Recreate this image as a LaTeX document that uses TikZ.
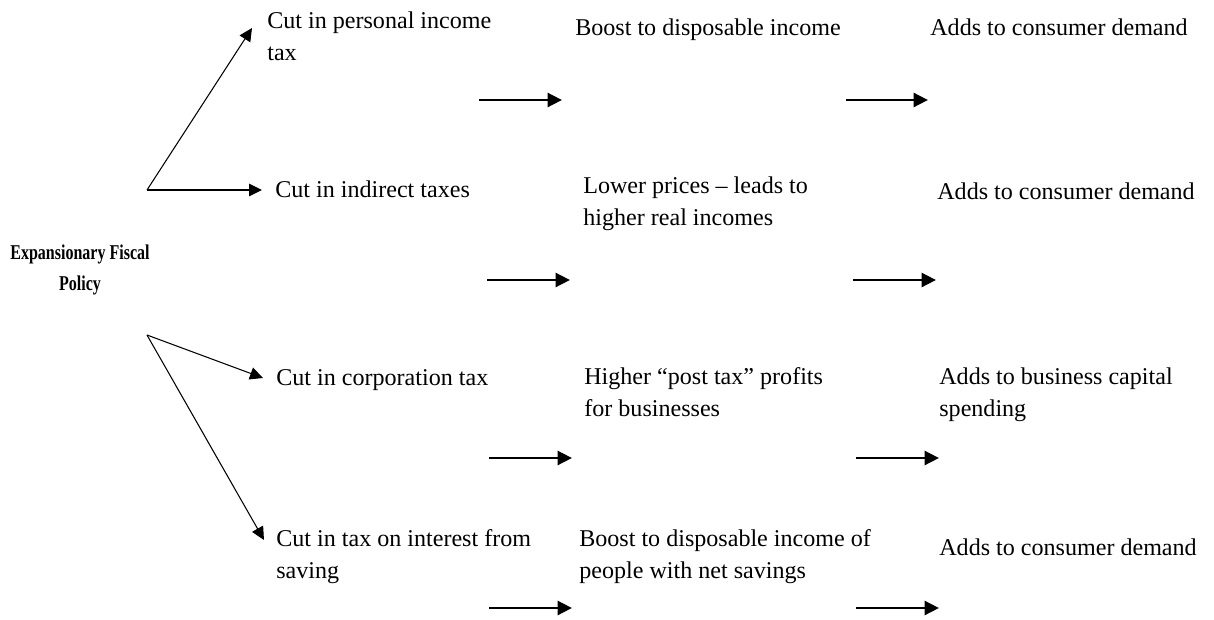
\documentclass[tikz,border=0pt]{standalone}
\usepackage{fontspec}
\setmainfont{Liberation Serif}
\newfontface\titlefont[FakeStretch=0.76]{Liberation Serif Bold}
\usetikzlibrary{arrows.meta}
\tikzset{txt/.style={anchor=base west,inner sep=0pt,align=left,font=\fontsize{13.7}{17.8}\selectfont},
  thinarr/.style={-{Triangle[length=0.26cm,width=0.25cm]},line width=0.6pt},
  thickarr/.style={-{Triangle[length=0.29cm,width=0.28cm]},line width=1.6pt}}

\begin{document}
\begin{tikzpicture}[x=0.02cm,y=-0.02cm]
    \useasboundingbox (0,0) rectangle (1214,619);

    \node[anchor=base,inner sep=0pt,align=center,font=\titlefont\fontsize{12}{17.6}\selectfont] (efp) at (80,290) {Expansionary Fiscal\\Policy};

    \node[txt] (pit) at (267,60) {Cut in personal income\\tax};
    \node[txt] (ind) at (275,197) {Cut in indirect taxes};
    \node[txt] (cor) at (276,385) {Cut in corporation tax};
    \node[txt] (sav) at (276,578) {Cut in tax on interest from\\saving};

    \node[txt] (bdi) at (575,35) {Boost to disposable income};
    \node[txt] (lpr) at (583,225) {Lower prices -- leads to\\higher real incomes};
    \node[txt] (hpt) at (584,416) {Higher ``post tax'' profits\\for businesses};
    \node[txt] (bds) at (579,578) {Boost to disposable income of\\people with net savings};

    \node[txt] (cd1) at (930,35) {Adds to consumer demand};
    \node[txt] (cd2) at (937,199) {Adds to consumer demand};
    \node[txt] (bcs) at (939,416) {Adds to business capital\\spending};
    \node[txt] (cd4) at (939,555) {Adds to consumer demand};

    \coordinate (u) at (147,190);
    \coordinate (d) at (147,335);
    \coordinate (t1) at (252,28);
    \coordinate (t2) at (262,190);
    \coordinate (t3) at (263,378);
    \coordinate (t4) at (264,540);

    \coordinate (a1) at (479,100);
    \coordinate (b1) at (562,100);
    \coordinate (a2) at (487,280);
    \coordinate (b2) at (570,280);
    \coordinate (a3) at (489,458);
    \coordinate (b3) at (572,458);
    \coordinate (a4) at (489,608);
    \coordinate (b4) at (572,608);

    \coordinate (c1) at (846,100);
    \coordinate (e1) at (928,100);
    \coordinate (c2) at (853,280);
    \coordinate (e2) at (936,280);
    \coordinate (c3) at (856,458);
    \coordinate (e3) at (939,458);
    \coordinate (c4) at (856,608);
    \coordinate (e4) at (939,608);

    \draw [thinarr] (u) to (t1);
    \draw [thinarr] (u) to (t2);
    \draw [thinarr] (d) to (t3);
    \draw [thinarr] (d) to (t4);

    \draw [thickarr] (a1) to (b1);
    \draw [thickarr] (a2) to (b2);
    \draw [thickarr] (a3) to (b3);
    \draw [thickarr] (a4) to (b4);
    \draw [thickarr] (c1) to (e1);
    \draw [thickarr] (c2) to (e2);
    \draw [thickarr] (c3) to (e3);
    \draw [thickarr] (c4) to (e4);
\end{tikzpicture}
\end{document}
